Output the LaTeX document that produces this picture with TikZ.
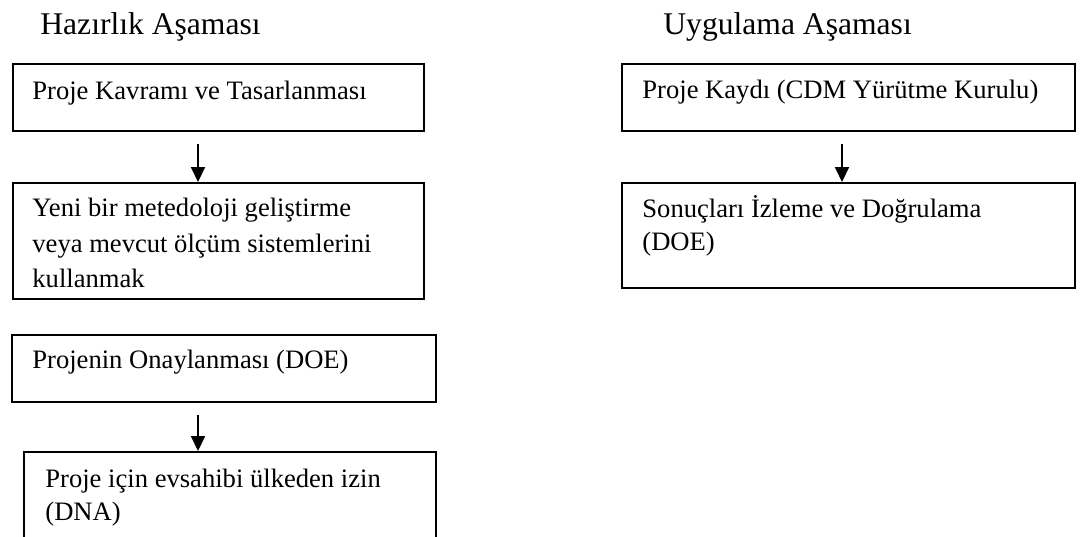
\documentclass[tikz,border=0pt]{standalone}
\usepackage{fontspec}
\setmainfont{Liberation Serif}
\usetikzlibrary{arrows.meta,calc}
\begin{document}
\begin{tikzpicture}[x=0.5pt,y=-0.5pt,
  box/.style={draw=black,line width=1pt,rectangle,inner sep=0pt,anchor=north west},
  txt/.style={anchor=base west,inner sep=0pt,font=\fontsize{13.3pt}{16pt}\selectfont},
  ttl/.style={anchor=base west,inner sep=0pt,font=\fontsize{15.8pt}{19pt}\selectfont},
  arr/.style={line width=1pt,-{Triangle[width=7pt,length=7.5pt]}}]
\useasboundingbox (0,0) rectangle (1080,536);
\clip (0,0) rectangle (1080,536);
% titles
\node[ttl] (t1) at (40,34) {Hazırlık Aşaması};
\node[ttl] (t2) at (663,34) {Uygulama Aşaması};
% left column boxes
\node[box,minimum width=205.5pt,minimum height=33.5pt] (b1) at (12,63) {};
\node[box,minimum width=205.5pt,minimum height=58pt] (b2) at (12,182) {};
\node[box,minimum width=212pt,minimum height=33.5pt] (b3) at (11,334) {};
\node[box,minimum width=206pt,minimum height=60pt] (b4) at (23,451) {};
% right column boxes
\node[box,minimum width=226.5pt,minimum height=33.5pt] (b5) at (621,63) {};
\node[box,minimum width=226.5pt,minimum height=52.5pt] (b6) at (621,182) {};
% texts
\node[txt] (x1) at (32,99) {Proje Kavramı ve Tasarlanması};
\node[txt] (x2a) at (32,216) {Yeni bir metedoloji geliştirme};
\node[txt] (x2b) at (32,252) {veya mevcut ölçüm sistemlerini};
\node[txt] (x2c) at (32,287) {kullanmak};
\node[txt] (x3) at (32,368) {Projenin Onaylanması (DOE)};
\node[txt] (x4a) at (45,487) {Proje için evsahibi ülkeden izin};
\node[txt] (x4b) at (45,520) {(DNA)};
\node[txt] (x5) at (642,98) {Proje Kaydı (CDM Yürütme Kurulu)};
\node[txt] (x6a) at (642,217) {Sonuçları İzleme ve Doğrulama};
\node[txt] (x6b) at (642,250) {(DOE)};
% arrows
\draw[arr] ($(b1.south west)+(186,12)$) -- ($(b2.north west)+(186,0)$);
\draw[arr] ($(b3.south west)+(187,12)$) -- ($(b4.north west)+(175,0)$);
\draw[arr] ($(b5.south west)+(221,12)$) -- ($(b6.north west)+(221,0)$);
\end{tikzpicture}
\end{document}
